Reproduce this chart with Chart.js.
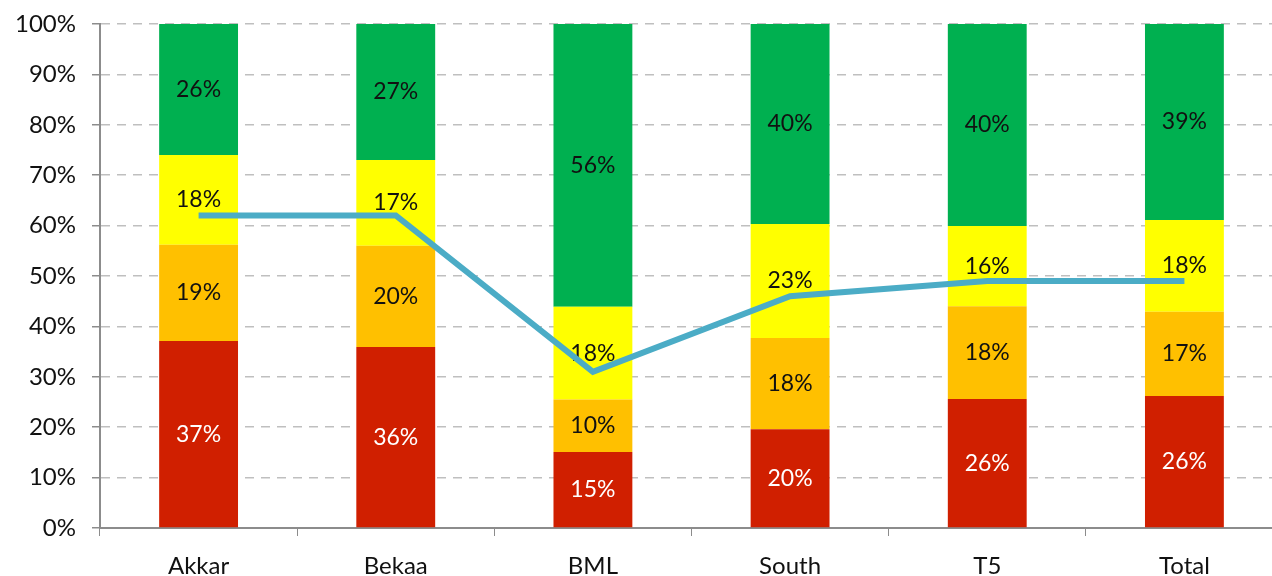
<!DOCTYPE html>
<html>
<head>
<meta charset="utf-8">
<script src="https://cdn.jsdelivr.net/npm/chart.js@4.4.1/dist/chart.umd.min.js"></script>
<style>
  html, body { margin: 0; padding: 0; background: #fff; overflow: hidden; }
  #wrap { width: 1272px; height: 576px; overflow: hidden; }
  #box { width: 1283px; height: 576px; position: relative; }
</style>
</head>
<body>
<div id="wrap"><div id="box"><canvas id="shareChart"></canvas></div></div>
<script>
const categories = ['Akkar', 'Bekaa', 'BML', 'South', 'T5', 'Total'];
const redShare    = [37.1, 35.9, 15.1, 19.6, 25.6, 26.2];
const orangeShare = [19.1, 20.1, 10.4, 18.1, 18.4, 16.7];
const yellowShare = [17.8, 17.0, 18.4, 22.6, 15.9, 18.2];
const greenShare  = [26.0, 27.0, 56.1, 39.7, 40.1, 38.9];
const lineValues  = [62, 62, 31, 46, 49, 49];
const yTicks = [0, 10, 20, 30, 40, 50, 60, 70, 80, 90, 100];

const fontFamily = 'Lato, "Open Sans", sans-serif';

// draws the % inside each bar segment, before the line goes on top
const segmentLabels = {
  id: 'segmentLabels',
  afterDatasetDraw(chart, args) {
    const ds = chart.data.datasets[args.index];
    if (ds.type !== 'bar') return;
    const ctx = chart.ctx;
    ctx.save();
    ctx.font = '23px ' + fontFamily;
    ctx.textAlign = 'center';
    ctx.textBaseline = 'middle';
    ctx.fillStyle = ds.labelColor;
    args.meta.data.forEach(function (bar, i) {
      const mid = (bar.y + bar.base) / 2;
      ctx.fillText(Math.round(ds.data[i]) + '%', bar.x, mid);
    });
    ctx.restore();
  }
};

function bar(label, data, color, textColor) {
  return {
    type: 'bar', label: label, data: data, backgroundColor: color,
    labelColor: textColor, order: 2, stack: 's',
    categoryPercentage: 1, barPercentage: 0.4, borderWidth: 0
  };
}

const ctx = document.getElementById('shareChart').getContext('2d');
new Chart(ctx, {
  data: {
    labels: categories,
    datasets: [
      bar('Red', redShare, '#D01F00', '#ffffff'),
      bar('Orange', orangeShare, '#FFC000', '#111111'),
      bar('Yellow', yellowShare, '#FFFF00', '#111111'),
      bar('Green', greenShare, '#00B050', '#111111'),
      {
        type: 'line', label: 'Line', data: lineValues, order: 0,
        borderColor: '#4BACC6', borderWidth: 6, pointRadius: 0,
        tension: 0, fill: false
      }
    ]
  },
  options: {
    responsive: true,
    maintainAspectRatio: false,
    animation: false,
    layout: { padding: { top: 24, right: 0, left: 0, bottom: 0 } },
    plugins: { legend: { display: false }, tooltip: { enabled: false } },
    scales: {
      x: {
        stacked: true,
        offset: true,
        grid: { display: true, drawOnChartArea: false, drawTicks: true, tickLength: 8, color: '#8c8c8c', offset: true },
        border: { display: true, color: '#8c8c8c', width: 2 },
        ticks: { color: '#111', font: { family: fontFamily, size: 24 }, padding: 16, maxRotation: 0 },
        afterFit(scale) { scale.height = 48; }
      },
      y: {
        stacked: true,
        min: 0, max: 100,
        afterBuildTicks(scale) { scale.ticks = yTicks.map(v => ({ value: v })); },
        grid: { color: '#bfbfbf', lineWidth: 1.5, tickLength: 8, tickColor: '#8c8c8c', drawTicks: true },
        border: { display: true, color: '#8c8c8c', width: 2, dash: [9, 7] },
        ticks: {
          color: '#111', padding: 16,
          font: { family: fontFamily, size: 24 },
          callback: v => v + '%'
        },
        afterFit(scale) {
          scale.width = 100;
          scale.paddingTop = 0;
          scale.paddingBottom = 0;
        }
      }
    }
  },
  plugins: [segmentLabels]
});
</script>
</body>
</html>
